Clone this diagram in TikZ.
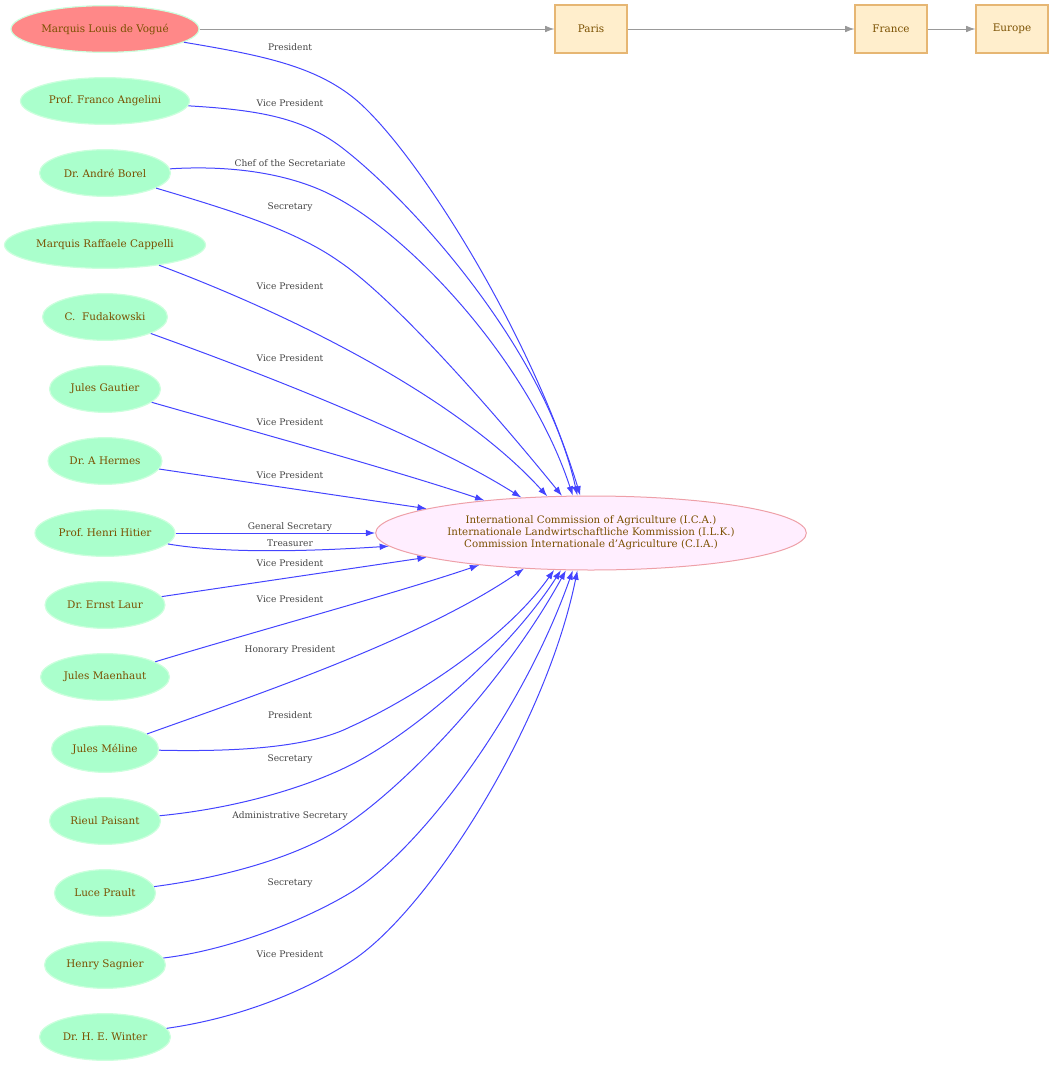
\documentclass[tikz,border=0pt]{standalone}
\usepackage{fontspec}
\setmainfont{DejaVu Serif}
\usetikzlibrary{shapes.geometric,arrows.meta}
\frenchspacing
\definecolor{nodegreen}{HTML}{AAFFCC}
\definecolor{greenline}{HTML}{CCFFDD}
\definecolor{redfill}{HTML}{FF8888}
\definecolor{icafill}{HTML}{FFEEFF}
\definecolor{icaline}{HTML}{EEA0A8}
\definecolor{boxfill}{HTML}{FFEECC}
\definecolor{boxline}{HTML}{E6B673}
\definecolor{txtbrown}{HTML}{7A5000}
\definecolor{lblgray}{HTML}{444444}
\definecolor{edgeblue}{HTML}{4444FF}
\definecolor{edgegray}{HTML}{999999}
\tikzset{
  pw/.style={minimum width=#1*0.75pt},
  person/.style={ellipse, fill=nodegreen, draw=greenline, line width=0.9pt, inner sep=0pt,
    minimum height=35pt, text=txtbrown, font=\fontsize{7.8}{9}\selectfont},
  leader/.style={person, fill=redfill},
  icanode/.style={ellipse, fill=icafill, draw=icaline, line width=0.75pt, inner sep=0pt,
    minimum width=323pt, minimum height=55.5pt, text=txtbrown, align=center,
    font=\fontsize{7.7}{9}\selectfont},
  place/.style={rectangle, fill=boxfill, draw=boxline, line width=0.8pt, inner sep=0pt,
    minimum width=54pt, minimum height=36pt, text=txtbrown, font=\fontsize{7.8}{9}\selectfont},
  rel/.style={draw=edgeblue, line width=0.75pt, -{Latex[length=7pt,width=5pt]}},
  geo/.style={draw=edgegray, line width=0.75pt, -{Latex[length=7pt,width=5pt]}},
  lab/.style={text=lblgray, inner sep=0pt, font=\fontsize{6.8}{7}\selectfont}
}
\begin{document}
\begin{tikzpicture}[x=0.75pt,y=-0.75pt]
\useasboundingbox (0,0) rectangle (1054,1067);
% people
\node[leader, pw=188] (vogue) at (105,29) {Marquis Louis de Vogué};
\node[person, pw=169] (angelini) at (105,101) {Prof. Franco Angelini};
\node[person, pw=131] (borel) at (105,173) {Dr. André Borel};
\node[person, pw=201] (cappelli) at (105,245) {Marquis Raffaele Cappelli};
\node[person, pw=125] (fuda) at (105,317) {C.\ \ Fudakowski};
\node[person, pw=111] (gautier) at (105,389) {Jules Gautier};
\node[person, pw=114] (hermes) at (105,461) {Dr. A Hermes};
\node[person, pw=140] (hitier) at (105,533) {Prof. Henri Hitier};
\node[person, pw=120] (laur) at (105,605) {Dr. Ernst Laur};
\node[person, pw=129] (maenhaut) at (105,677) {Jules Maenhaut};
\node[person, pw=107] (meline) at (105,749) {Jules Méline};
\node[person, pw=111] (paisant) at (105,821) {Rieul Paisant};
\node[person, pw=101] (prault) at (105,893) {Luce Prault};
\node[person, pw=121] (sagnier) at (105,965) {Henry Sagnier};
\node[person, pw=131] (winter) at (105,1037) {Dr. H. E. Winter};
% commission
\node[icanode] (ica) at (591,533) {International Commission of Agriculture (I.C.A.)\\Internationale Landwirtschaftliche Kommission (I.L.K.)\\Commission Internationale d'Agriculture (C.I.A.)};
% places
\node[place] (paris) at (591,29) {Paris};
\node[place] (france) at (891,29) {France};
\node[place] (europe) at (1012,29) {Europe};
\draw[geo] (vogue) -- (paris);
\draw[geo] (paris) -- (france);
\draw[geo] (france) -- (europe);
% relations
\draw[rel] (vogue) .. controls (260,55) and (310,65) .. (350,95) .. controls (410,140) and (530,330) .. (ica.106.6);
\draw[rel] (angelini) .. controls (260,110) and (305,118) .. (345,150) .. controls (415,205) and (545,350) .. (ica.110.8);
\draw[rel] (borel) .. controls (230,165) and (292,173) .. (337,198) .. controls (415,240) and (530,365) .. (ica.116);
\draw[rel] (borel) .. controls (230,210) and (295,230) .. (340,262) .. controls (390,296) and (480,395) .. (ica.128.3);
\draw[rel] (cappelli) .. controls (300,318) and (460,400) .. (ica.140.6);
\draw[rel] (fuda) .. controls (280,380) and (430,440) .. (ica.153.1);
\draw[rel] (gautier) .. controls (270,436) and (400,472) .. (ica.163.5);
\draw[rel] (hermes) -- (ica);
\draw[rel] (hitier) -- (ica);
\draw[rel] (hitier) .. controls (220,553) and (300,552) .. (ica);
\draw[rel] (laur) -- (ica);
\draw[rel] (maenhaut) .. controls (260,630) and (400,592) .. (ica.196.5);
\draw[rel] (meline) .. controls (250,697) and (420,640) .. (ica.208.1);
\draw[rel] (meline) .. controls (240,752) and (310,747) .. (350,727) .. controls (410,700) and (505,640) .. (ica.225.4);
\draw[rel] (paisant) .. controls (240,808) and (315,785) .. (360,760) .. controls (420,727) and (510,650) .. (ica.231.7);
\draw[rel] (prault) .. controls (220,878) and (290,859) .. (335,832) .. controls (395,796) and (500,690) .. (ica.236.9);
\draw[rel] (sagnier) .. controls (230,950) and (305,920) .. (350,893) .. controls (415,854) and (520,720) .. (ica.244);
\draw[rel] (winter) .. controls (240,1018) and (305,991) .. (350,962) .. controls (425,915) and (545,730) .. (ica.250.6);
% labels
\node[lab] (l1) at (290,47) {President};
\node[lab] (l2) at (290,103) {Vice President};
\node[lab] (l3) at (290,163) {Chef of the Secretariate};
\node[lab] (l4) at (290,207) {Secretary};
\node[lab] (l5) at (290,286) {Vice President};
\node[lab] (l6) at (290,358) {Vice President};
\node[lab] (l7) at (290,422) {Vice President};
\node[lab] (l8) at (290,475) {Vice President};
\node[lab] (l9) at (290,527) {General Secretary};
\node[lab] (l10) at (290,543) {Treasurer};
\node[lab] (l11) at (290,563) {Vice President};
\node[lab] (l12) at (290,599) {Vice President};
\node[lab] (l13) at (290,650) {Honorary President};
\node[lab] (l14) at (290,715) {President};
\node[lab] (l15) at (290,759) {Secretary};
\node[lab] (l16) at (290,816) {Administrative Secretary};
\node[lab] (l17) at (290,883) {Secretary};
\node[lab] (l18) at (290,954) {Vice President};
\end{tikzpicture}
\end{document}
